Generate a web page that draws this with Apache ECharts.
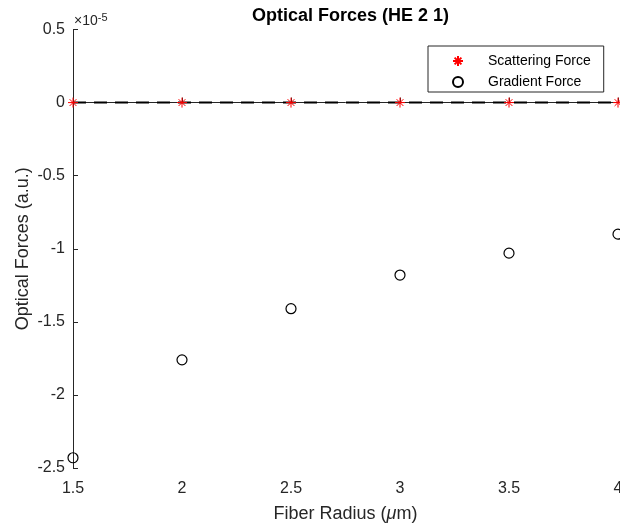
<!DOCTYPE html>
<html>
<head>
<meta charset="utf-8">
<script src="https://cdn.jsdelivr.net/npm/echarts@6/dist/echarts.min.js"></script>
<style>
    html, body { margin: 0; padding: 0; background: #fff; }
    #chart { width: 620px; height: 529px; }
</style>
</head>
<body>
<div id="chart"></div>
<script>
    // fibre radius (um)
    const radius = [1.5, 2, 2.5, 3, 3.5, 4]
    // forces, in units of 1e-5
    const scatteringForce = [0, 0, 0, 0, 0, 0]
    const gradientForce = [-2.43, -1.76, -1.41, -1.18, -1.03, -0.90]
    const yTicks = { min: -2.5, max: 0.5, step: 0.5 }
    const xTicks = { min: 1.5, max: 4, step: 0.5 }

    const axisColor = '#262626'
    const font = '"Liberation Sans", Arial, Helvetica, sans-serif'
    const starPath = 'path://M5,0L5,10M0,5L10,5M1.6,1.6L8.4,8.4M1.6,8.4L8.4,1.6'

    const zip = (xs, ys) => xs.map((x, i) => [x, ys[i]])

    const chart = echarts.init(document.getElementById('chart'))

    const option = {
        animation: false,
        backgroundColor: '#fff',
        textStyle: { fontFamily: font },
        title: {
            text: 'Optical Forces (HE 2 1)',
            left: 345.5,
            top: 2,
            textAlign: 'center',
            textStyle: { fontSize: 18, fontWeight: 'bold', color: '#000', fontFamily: font }
        },
        grid: { left: 73, right: 2, top: 29.5, bottom: 61, outerBoundsMode: 'none' },
        legend: {
            orient: 'vertical',
            left: 428,
            top: 46,
            padding: [8, 13, 3, 24],
            itemGap: 7,
            itemWidth: 10,
            itemHeight: 10,
            borderColor: axisColor,
            borderWidth: 1,
            backgroundColor: '#fff',
            data: ['Scattering Force', 'Gradient Force'],
            textStyle: { fontSize: 14, color: '#000', fontFamily: font, padding: [0, 0, 0, 20] }
        },
        xAxis: {
            type: 'value',
            min: xTicks.min,
            max: xTicks.max,
            interval: xTicks.step,
            name: 'Fiber Radius ({mu|μ}m)',
            nameLocation: 'middle',
            nameGap: 37,
            nameMoveOverlap: false,
            nameTextStyle: {
                fontSize: 18, color: axisColor, fontFamily: font,
                rich: { mu: { fontSize: 18, fontStyle: 'italic', color: axisColor, fontFamily: font } }
            },
            axisLine: { lineStyle: { color: axisColor, width: 1 } },
            axisTick: { inside: true, length: 5, lineStyle: { color: axisColor } },
            axisLabel: { fontSize: 16, color: axisColor, margin: 13 },
            splitLine: { show: false }
        },
        yAxis: {
            type: 'value',
            min: yTicks.min,
            max: yTicks.max,
            interval: yTicks.step,
            name: 'Optical Forces (a.u.)',
            nameLocation: 'middle',
            nameGap: 41,
            nameMoveOverlap: false,
            nameTextStyle: { fontSize: 18, color: axisColor, fontFamily: font },
            axisLine: { show: true, lineStyle: { color: axisColor, width: 1 } },
            axisTick: { show: true, inside: true, length: 5, lineStyle: { color: axisColor } },
            axisLabel: { fontSize: 16, color: axisColor, margin: 8 },
            splitLine: { show: false }
        },
        graphic: [{
            type: 'text',
            left: 74,
            top: 12,
            style: {
                text: '×10{sup|-5}',
                fill: axisColor,
                fontSize: 14,
                fontFamily: font,
                rich: { sup: { fontSize: 11, verticalAlign: 'top', padding: [0, 0, 8, 0], fill: axisColor, fontFamily: font } }
            }
        }],
        series: [
            {
                name: 'zero line',
                type: 'line',
                data: zip(radius, scatteringForce),
                showSymbol: false,
                symbol: 'none',
                z: 1,
                lineStyle: { color: '#000', width: 2, type: [13, 8] },
                silent: true
            },
            {
                name: 'Scattering Force',
                type: 'scatter',
                data: zip(radius, scatteringForce),
                symbol: starPath,
                symbolSize: 10,
                z: 3,
                itemStyle: { color: 'rgba(0,0,0,0)', borderColor: '#ff0000', borderWidth: 1, opacity: 1 }
            },
            {
                name: 'Gradient Force',
                type: 'scatter',
                data: zip(radius, gradientForce),
                symbol: 'circle',
                symbolSize: 10,
                z: 3,
                itemStyle: { color: 'rgba(0,0,0,0)', borderColor: '#000', borderWidth: 1.2, opacity: 1 }
            }
        ]
    }

    chart.setOption(option)
</script>
</body>
</html>
